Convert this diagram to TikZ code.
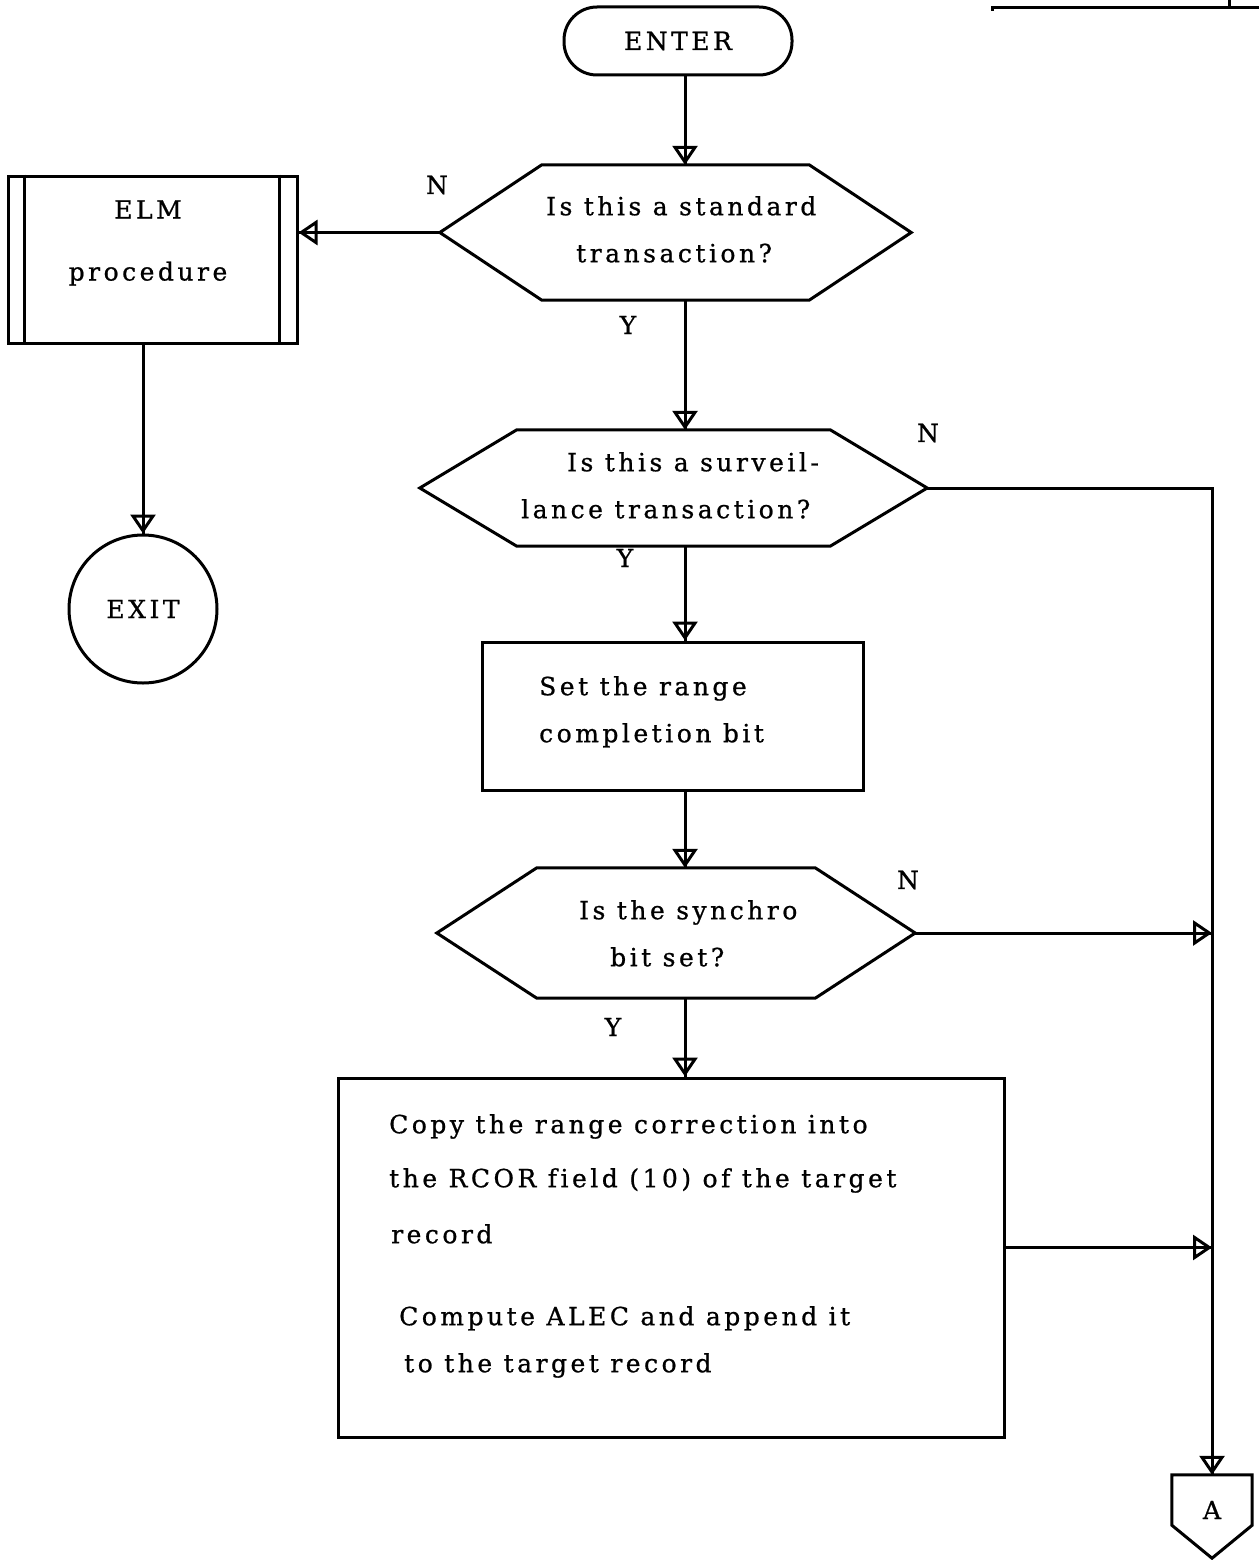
\documentclass[tikz,border=0pt]{standalone}
\usepackage{fontspec}
\setmainfont{DejaVu Serif}[LetterSpace=14, Ligatures=NoCommon, FakeBold=0.8]
\usetikzlibrary{arrows.meta,calc}
\newcommand\hexpath[2]{\draw[ln] (#1.west) -- ([xshift=#2]#1.north west) -- ([xshift=-#2]#1.north east) -- (#1.east) -- ([xshift=-#2]#1.south east) -- ([xshift=#2]#1.south west) -- cycle;}
\begin{document}
\begin{tikzpicture}[x=1pt,y=-1pt,
  ln/.style={line width=3pt},
  arr/.style={ln, postaction={draw, line width=3pt, -{Triangle[open, length=19pt, width=25pt]}}},
  f/.style={font=\fontsize{25}{47}\selectfont},
  box/.style={draw, line width=3pt, inner sep=0pt, f, align=center},
  plain/.style={inner sep=0pt, f, align=center},
  lbl/.style={inner sep=0pt, font=\fontsize{25}{30}\selectfont}]
\fill[white] (0,0) rectangle (1259,1560);
\useasboundingbox (0,0) rectangle (1259,1560);

% page corner fragment
\draw[ln] (992,11) -- (992,8) -- (1259,8);
\draw[ln] (1229,0) -- (1229,8);

% nodes
\node[box, rounded corners=33pt, minimum width=228pt, minimum height=68pt] (enter) at (678,41) {ENTER};

\node[plain, minimum width=471pt, minimum height=135pt] (d1) at (675.5,232.5) {};
\hexpath{d1}{102pt}
\node[plain, align=left, anchor=north west] (d1txt) at (546,196) {Is this a standard\\\hspace*{30pt}transaction?};

\node[box, minimum width=289pt, minimum height=167pt] (elm) at (152.5,259.5) {};
\draw[ln] ([xshift=18pt]elm.north west) -- ([xshift=18pt]elm.south west);
\draw[ln] ([xshift=-19pt]elm.north east) -- ([xshift=-19pt]elm.south east);
\node[plain] (elmtxt) at (148,243) {ELM\\[15pt]procedure};

\node[box, circle, minimum size=148pt] (exit) at (143,609) {EXIT};

\node[plain, minimum width=507pt, minimum height=116pt] (d2) at (673.5,488) {};
\hexpath{d2}{97pt}
\node[plain, align=left, anchor=north west] (d2txt) at (521,452) {\hspace*{46pt}Is this a surveil-\\lance transaction?};

\node[box, minimum width=381pt, minimum height=148pt] (r1) at (672.5,716) {};
\node[plain, align=left, anchor=north west] (r1txt) at (539,676) {Set the range\\completion bit};

\node[plain, minimum width=478pt, minimum height=130pt] (d3) at (676,933) {};
\hexpath{d3}{100pt}
\node[plain, align=left, anchor=north west] (d3txt) at (579,900) {Is the synchro\\\hspace*{31pt}bit set?};

\node[box, minimum width=666pt, minimum height=359pt] (big) at (671,1257.5) {};
\node[plain, align=left, anchor=north west] (bigtxt) at (389,1114) {Copy the range correction into\\[7pt]the RCOR field (10) of the target\\[9pt]\hspace*{2pt}record\\[35pt]\hspace*{10pt}Compute ALEC and append it\\\hspace*{15pt}to the target record};

\node[plain, minimum width=80pt, minimum height=70pt] (A) at (1212,1510) {A};
\draw[ln] (A.north west) -- (A.north east) -- ([yshift=20pt]A.south east) -- ([yshift=-13pt]A.south) -- ([yshift=20pt]A.south west) -- cycle;

% labels
\node[lbl] (n1) at (437,185) {N};
\node[lbl] (y1) at (628,325) {Y};
\node[lbl] (n2) at (928,433) {N};
\node[lbl] (y2) at (625,558) {Y};
\node[lbl] (n3) at (908,880) {N};
\node[lbl] (y3) at (613,1027) {Y};

% connectors
\coordinate (col) at (685,0);
\draw[arr] (enter.south -| col) -- (d1.north -| col);
\draw[arr] (d1.south -| col) -- (d2.north -| col);
\draw[arr] (d2.south -| col) -- (r1.north -| col);
\draw[arr] (r1.south -| col) -- (d3.north -| col);
\draw[arr] (d3.south -| col) -- (big.north -| col);
\draw[arr] (d1.west) -- (d1.west -| elm.east);
\draw[arr] (elm.south -| exit.north) -- (exit.north);
\draw[arr] (d2.east) -- (d2.east -| A.north) -- (A.north);
\draw[arr] (d3.east) -- (d3.east -| A.north);
\draw[arr] ([yshift=10pt]big.east) -- ([yshift=10pt]big.east -| A.north);
\end{tikzpicture}
\end{document}
